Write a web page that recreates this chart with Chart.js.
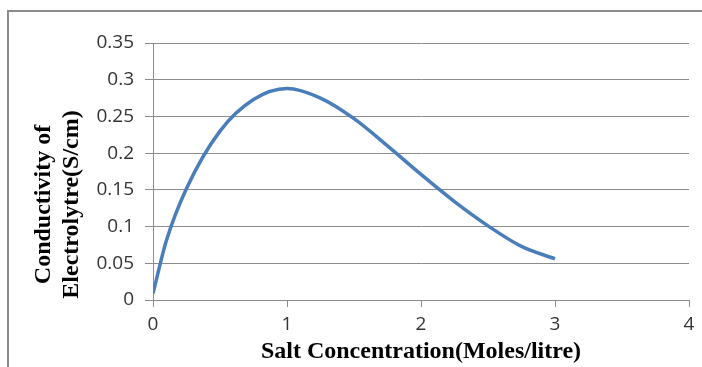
<!DOCTYPE html>
<html>
<head>
<meta charset="utf-8">
<script src="https://cdn.jsdelivr.net/npm/chart.js@4"></script>
<style>
  html, body { margin: 0; padding: 0; background: #fff; overflow: hidden; }
  #frame { position: absolute; left: 7px; top: 10px; width: 760px; height: 420px; border: 2px solid #8c8c8c; box-sizing: border-box; }
  #wrap { position: absolute; left: 0; top: 0; width: 702px; height: 367px; }
</style>
</head>
<body>
<div id="frame"></div>
<div id="wrap"><canvas id="myChart" width="702" height="367"></canvas></div>
<script>
// salt concentration (moles/litre) and conductivity (S/cm)
const concentration = [0, 0.1, 0.25, 0.5, 0.75, 1, 1.25, 1.5, 1.75, 2, 2.25, 2.5, 2.75, 3];
const conductivity = [0.009, 0.081, 0.152, 0.230, 0.273, 0.288, 0.275, 0.247, 0.21, 0.171, 0.134, 0.101, 0.073, 0.056];

const xTicks = [0, 1, 2, 3, 4];
const yTicks = [0, 0.05, 0.1, 0.15, 0.2, 0.25, 0.3, 0.35];

const gridGray = "#8c8c8c";
const tickFont = { family: "Open Sans", size: 19 };
const titleFont = { family: "Liberation Serif", size: 24, weight: "bold", lineHeight: 1.2 };
const pad = "\u00a0".repeat(11); // pushes the y title down like the original

const ctx = document.getElementById("myChart").getContext("2d");

const points = concentration.map((x, i) => ({ x: x, y: conductivity[i] }));

const myChart = new Chart(ctx, {
    type: "scatter",
    data: {
        datasets: [
            {
                data: points,
                showLine: true,
                borderColor: "#4a7ebb",
                borderWidth: 3.5,
                pointRadius: 0,
                cubicInterpolationMode: "monotone",
                fill: false,
            },
        ],
    },
    options: {
        responsive: false,
        animation: false,
        plugins: { legend: { display: false }, tooltip: { enabled: false } },
        layout: { padding: { left: 29, right: 13, top: 43, bottom: 0 } },
        scales: {
            x: {
                type: "linear",
                min: 0,
                max: 4,
                afterBuildTicks: (axis) => { axis.ticks = xTicks.map(v => ({ value: v })); },
                afterFit: (axis) => { axis.height = 367 - 300; },
                grid: { drawOnChartArea: false, drawTicks: true, tickLength: 7, color: gridGray },
                border: { display: true, color: gridGray },
                ticks: { color: "#333", font: tickFont, padding: 6 },
                title: { display: true, text: "Salt Concentration(Moles/litre)", color: "#000", font: titleFont, padding: { top: 0, bottom: 1 } },
            },
            y: {
                min: 0,
                max: 0.35,
                afterBuildTicks: (axis) => { axis.ticks = yTicks.map(v => ({ value: v })); },
                afterFit: (axis) => { axis.width = 153 - 29; },
                grid: { color: gridGray, drawTicks: true, tickLength: 8 },
                border: { display: true, color: gridGray },
                ticks: { color: "#333", font: tickFont, padding: 11, callback: (v) => String(v) },
                title: { display: true, text: ["Conductivity of" + pad, "Electrolytre(S/cm)" + pad], color: "#000", font: titleFont, padding: 0 },
            },
        },
    },
});
</script>
</body>
</html>
